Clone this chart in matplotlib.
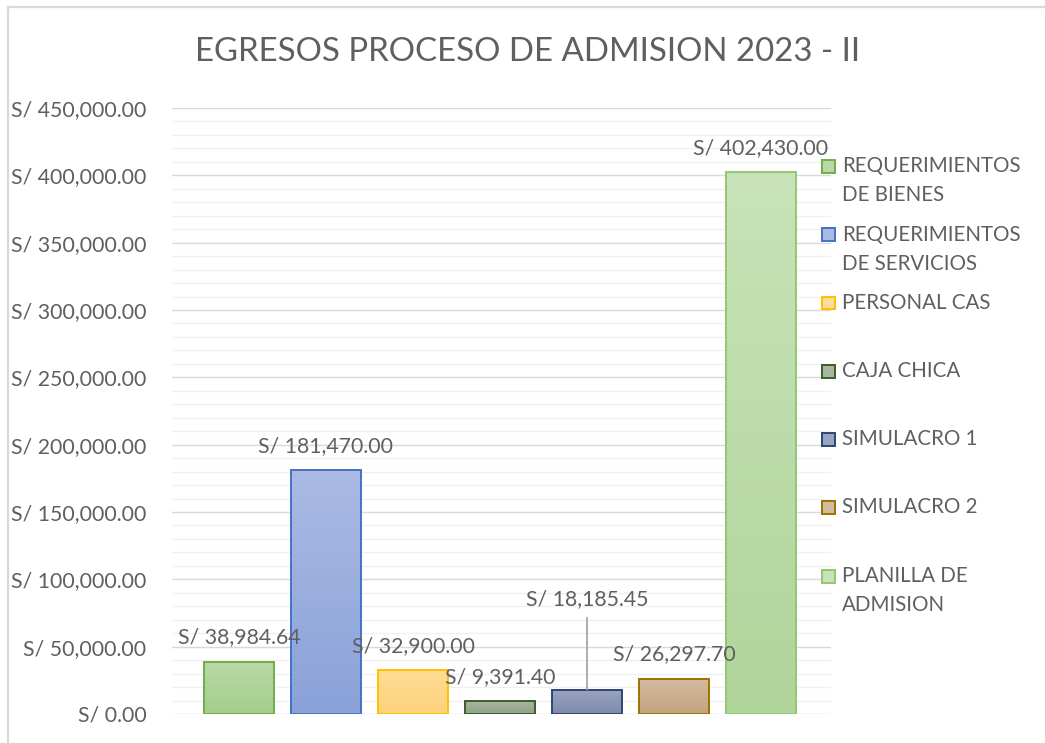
import numpy as np
import matplotlib
matplotlib.use("Agg")
import matplotlib.pyplot as plt
from matplotlib.colors import LinearSegmentedColormap
from matplotlib.patches import Rectangle
from matplotlib.lines import Line2D
from matplotlib.ticker import MultipleLocator, FuncFormatter

# ---- data ----
title = "EGRESOS PROCESO DE ADMISION 2023 - II"
categories = ["REQUERIMIENTOS\nDE BIENES", "REQUERIMIENTOS\nDE SERVICIOS", "PERSONAL CAS",
              "CAJA CHICA", "SIMULACRO 1", "SIMULACRO 2", "PLANILLA DE\nADMISION"]
values = [38984.64, 181470.00, 32900.00, 9391.40, 18185.45, 26297.70, 402430.00]
label_offsets_px = [24, 24, 24, 24, 90, 24, 24]
top_colors = ["#b9daa6", "#aabae4", "#ffdd96", "#a8b5a1", "#9ba4bf", "#d5bb9e", "#c8e3b9"]
bottom_colors = ["#a4cd8a", "#8aa2d9", "#fdd17a", "#8fa287", "#7f8aab", "#c2a47f", "#afd59b"]
edge_colors = ["#70ad47", "#4472c4", "#ffc000", "#3b5e27", "#2a4677", "#9a7400", "#93c76f"]
y_ticks_step = 50000
y_max = 450000

TXT = "#5f5f5f"
FONT = "Lato"
plt.rcParams['font.family'] = [FONT, 'DejaVu Sans']

W, H = 1045, 743
fig = plt.figure(figsize=(W / 100, H / 100), dpi=100)
ax = fig.add_axes([172 / W, (H - 714) / H, (831 - 172) / W, (714 - 108) / H])

x = np.arange(len(values))
bw = 70 / 87
bars = ax.bar(x, values, width=bw, facecolor="none", edgecolor=edge_colors,
              linewidth=1.4, zorder=3)

for i, b in enumerate(bars):
    cmap = LinearSegmentedColormap.from_list(f"g{i}", [bottom_colors[i], top_colors[i]])
    grad = np.linspace(0, 1, 256).reshape(-1, 1)
    im = ax.imshow(grad, extent=(b.get_x(), b.get_x() + b.get_width(), 0, b.get_height()),
                   origin="lower", aspect="auto", cmap=cmap, zorder=2)
    im.set_clip_path(b)

for i, v in enumerate(values):
    txt = "S/ {:,.2f}".format(v)
    off = label_offsets_px[i]
    if off > 40:
        ax.annotate(txt, xy=(x[i], v), xytext=(0, off), textcoords="offset pixels",
                    ha="center", va="center", fontsize=15.3, color=TXT, zorder=5,
                    arrowprops=dict(arrowstyle="-", color="#a6a6a6", lw=1.3,
                                    shrinkA=4, shrinkB=0))
    else:
        ax.annotate(txt, xy=(x[i], v), xytext=(0, off), textcoords="offset pixels",
                    ha="center", va="center", fontsize=15.3, color=TXT, zorder=5)

ax.set_xlim(-67 / 87, 6 + 70 / 87)
ax.set_ylim(0, y_max)
ax.yaxis.set_major_locator(MultipleLocator(y_ticks_step))
ax.yaxis.set_minor_locator(MultipleLocator(y_ticks_step / 5))
ax.yaxis.set_major_formatter(FuncFormatter(lambda v, p: "S/ {:,.2f}".format(v)))
ax.grid(which="major", axis="y", color="#d9d9d9", lw=1.0, zorder=0)
ax.grid(which="minor", axis="y", color="#f0f0f0", lw=1.0, zorder=0)
ax.set_axisbelow(True)
ax.tick_params(axis="y", which="both", length=0, pad=18.5, labelsize=15.3, labelcolor=TXT)
ax.tick_params(axis="x", which="both", length=0, labelbottom=False)
for s in ax.spines.values():
    s.set_visible(False)

fig.text(528 / W, 1 - 52 / H, title, ha="center", va="center", fontsize=23.8, color=TXT)

# legend (manual, Excel-like)
legend_y = [166, 235, 303, 371, 439, 507, 576]
for i, lab in enumerate(categories):
    y0 = legend_y[i]
    fig.patches.append(Rectangle((822 / W, 1 - (y0 + 6.5) / H), 13 / W, 13 / H,
                                 transform=fig.transFigure, facecolor=top_colors[i],
                                 edgecolor=edge_colors[i], lw=1.4))
    for k, line in enumerate(lab.split("\n")):
        fig.text(842 / W, 1 - (y0 + k * 29) / H, line, ha="left", va="center",
                 fontsize=14.8, color=TXT)

# chart-area border (top and left visible)
fig.add_artist(Line2D([8 / W, 1.0], [1 - 7 / H, 1 - 7 / H], transform=fig.transFigure,
                      color="#d9d9d9", lw=1.6))
fig.add_artist(Line2D([8 / W, 8 / W], [0.0, 1 - 7 / H], transform=fig.transFigure,
                      color="#d9d9d9", lw=1.6))

fig.savefig("out.png", dpi=100, facecolor="white")
